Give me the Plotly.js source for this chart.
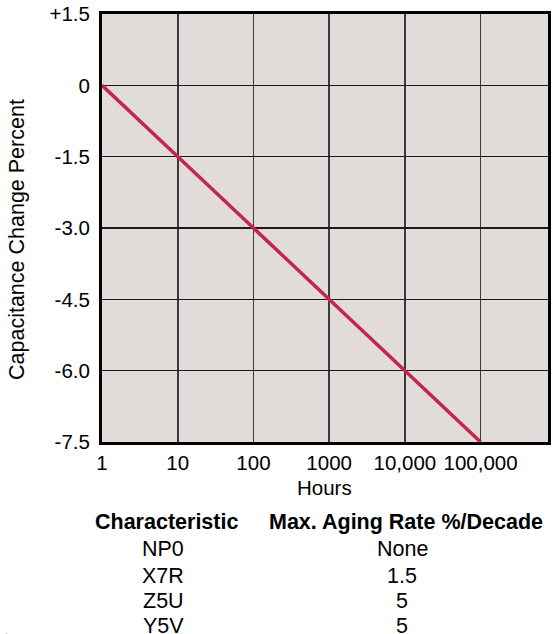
<!DOCTYPE html>
<html>
<head>
<meta charset="utf-8">
<script src="https://cdn.plot.ly/plotly-3.0.1.min.js"></script>
<style>html,body{margin:0;padding:0;background:#fff;}#chart{width:553px;height:634px;}</style>
</head>
<body>
<div id="chart"></div>
<script>
// Data
const hours = [1, 10, 100, 1000, 10000, 100000];
const capChange = [0, -1.5, -3.0, -4.5, -6.0, -7.5];
const xTickVals = [1, 10, 100, 1000, 10000, 100000];
const xTickText = ['1', '10', '100', '1000', '10,000', '100,000'];
const yTickVals = [1.5, 0, -1.5, -3.0, -4.5, -6.0, -7.5];
const yTickText = ['+1.5', '0', '-1.5', '-3.0', '-4.5', '-6.0', '-7.5'];
const characteristics = ['NP0', 'X7R', 'Z5U', 'Y5V'];
const agingRates = ['None', '1.5', '5', '5'];

const W = 553, H = 634;
const L = 102, R = 5, T = 14, B = 192;
const pw = W - L - R, ph = H - T - B;
const px = x => (x - L) / pw;
const py = y => (H - B - y) / ph;

const FONT = 'Liberation Sans, Arial, Helvetica, sans-serif';
const FS = 20.5;
const FT = 21.5;

const annotations = [];
function txt(text, x, y, opts) {
  annotations.push(Object.assign({
    text: text, xref: 'paper', yref: 'paper', x: px(x), y: py(y),
    xanchor: 'center', yanchor: 'middle', showarrow: false,
    font: {family: FONT, size: FT, color: '#000'}
  }, opts || {}));
}
txt('Capacitance Change Percent', 17, 240, {textangle: -90});
txt('Hours', 324, 487, {font: {family: FONT, size: FS, color: '#000'}});
txt('<b>Characteristic</b>', 166, 522);
txt('<b>Max. Aging Rate %/Decade</b>', 406, 522);
const rowY = [549, 576, 601, 626];
characteristics.forEach((c, i) => txt(c, 163, rowY[i]));
agingRates.forEach((r, i) => txt(r, 402, rowY[i]));
txt('<span style="color:#c8c8c8">Figure</span> <b>9</b>', 72, 642, {xanchor: 'right'});

const trace = {
  x: hours, y: capChange, type: 'scatter', mode: 'lines',
  line: {color: '#C3254D', width: 3.5}, hoverinfo: 'skip'
};

const layout = {
  width: W, height: H,
  margin: {l: L, r: R, t: T, b: B, pad: 0},
  paper_bgcolor: '#ffffff', plot_bgcolor: '#E1DCDA',
  showlegend: false,
  font: {family: FONT, size: FS, color: '#000'},
  xaxis: {
    type: 'log', range: [0, 5.89],
    tickvals: xTickVals, ticktext: xTickText,
    ticks: '',
    showgrid: true, gridcolor: '#3a3a3a', gridwidth: 1.6,
    showline: true, linecolor: '#000', linewidth: 3, mirror: true,
    zeroline: false, tickfont: {family: FONT, size: FS, color: '#000'}
  },
  yaxis: {
    range: [-7.5, 1.5],
    tickvals: yTickVals, ticktext: yTickText,
    ticks: 'outside', ticklen: 5, tickcolor: 'rgba(0,0,0,0)',
    showgrid: true, gridcolor: '#1a1a1a', gridwidth: 1.6,
    showline: true, linecolor: '#000', linewidth: 3, mirror: true,
    zeroline: false, tickfont: {family: FONT, size: FS, color: '#000'}
  },
  annotations: annotations
};

Plotly.newPlot('chart', [trace], layout, {displayModeBar: false, staticPlot: true});
</script>
</body>
</html>
